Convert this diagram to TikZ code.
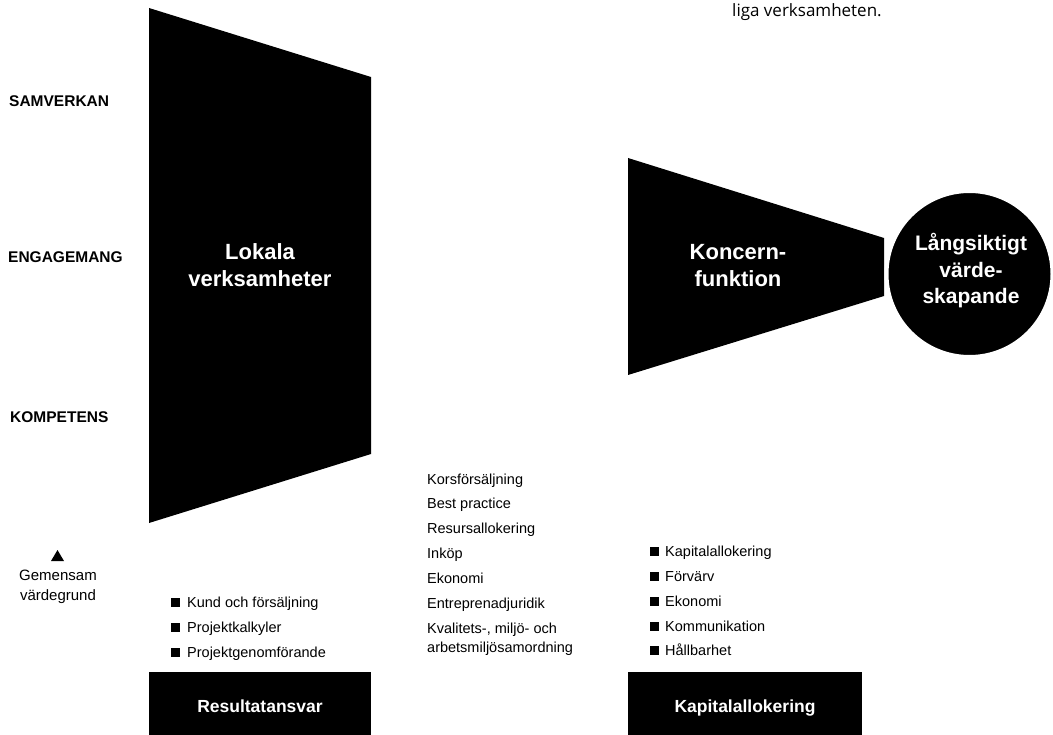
\documentclass[tikz,border=0pt]{standalone}
\usepackage{fontspec}
\setmainfont{Liberation Sans}
\newfontfamily\topfont{Open Sans}
\begin{document}
\begin{tikzpicture}[x=1pt,y=-1pt,
  blk/.style={fill=black,draw=none},
  sidelbl/.style={font=\bfseries\fontsize{15.5}{18}\selectfont, anchor=base west, inner sep=0},
  bigtxt/.style={text=white, font=\bfseries\fontsize{22}{27}\selectfont, align=center, inner sep=0},
  boxtxt/.style={text=white, font=\bfseries\fontsize{17.5}{20}\selectfont, anchor=base, inner sep=0},
  itm/.style={font=\fontsize{14.5}{18}\selectfont, anchor=base west, inner sep=0},
  sq/.style={fill=black, minimum size=8.5pt, inner sep=0, anchor=south west}]
\useasboundingbox (0,0) rectangle (1053,735);
% top text
\node[font=\topfont\fontsize{17}{19}\selectfont, anchor=base west, inner sep=0] (toptxt) at (732,17) {liga verksamheten.};
% left trapezoid
\path[blk] (149,8) -- (371,77) -- (371,454) -- (149,523) -- cycle;
\node[bigtxt, anchor=base] (lokala) at (260,287) {Lokala\\verksamheter};
% side labels
\node[sidelbl] (samv) at (9,107) {SAMVERKAN};
\node[sidelbl] (eng) at (8,263) {ENGAGEMANG};
\node[sidelbl] (komp) at (10,423) {KOMPETENS};
% common values
\path[blk] (51,561) -- (64,561) -- (57.5,550) -- cycle;
\node[font=\fontsize{15}{20}\selectfont, align=center, anchor=base, inner sep=0] (gem) at (58,600) {Gemensam\\värdegrund};
% right trapezoid and circle
\path[blk] (628,158) -- (884,238) -- (884,296) -- (628,375) -- cycle;
\node[bigtxt, anchor=base] (koncern) at (738,287) {Koncern-\\funktion};
\node[circle, fill=black, draw=white, line width=4pt, minimum size=166pt, inner sep=0] (circ) at (969.5,274) {};
\node[bigtxt, anchor=base, font=\bfseries\fontsize{21}{26.5}\selectfont] (lang) at (971,304) {Långsiktigt\\värde-\\skapande};
% left bullet list
\node[sq] (b1) at (171,607) {};
\node[itm] (l1) at (187,607) {Kund och försäljning};
\node[sq] (b2) at (171,632) {};
\node[itm] (l2) at (187,632) {Projektkalkyler};
\node[sq] (b3) at (171,657) {};
\node[itm] (l3) at (187,657) {Projektgenomförande};
% middle list
\node[itm] (m1) at (427,484) {Korsförsäljning};
\node[itm] (m2) at (427,508.5) {Best practice};
\node[itm] (m3) at (427,533) {Resursallokering};
\node[itm] (m4) at (427,558) {Inköp};
\node[itm] (m5) at (427,583) {Ekonomi};
\node[itm] (m6) at (427,608) {Entreprenadjuridik};
\node[itm] (m7) at (427,633) {Kvalitets-, miljö- och};
\node[itm] (m8) at (427,652) {arbetsmiljösamordning};
% right bullet list
\node[sq] (r1b) at (650,556) {};
\node[itm] (r1) at (665,556) {Kapitalallokering};
\node[sq] (r2b) at (650,581) {};
\node[itm] (r2) at (665,581) {Förvärv};
\node[sq] (r3b) at (650,606) {};
\node[itm] (r3) at (665,606) {Ekonomi};
\node[sq] (r4b) at (650,631) {};
\node[itm] (r4) at (665,631) {Kommunikation};
\node[sq] (r5b) at (650,655) {};
\node[itm] (r5) at (665,655) {Hållbarhet};
% bottom boxes
\path[blk] (149,672) rectangle (371,735);
\node[boxtxt] (res) at (260,712) {Resultatansvar};
\path[blk] (628,672) rectangle (862,735);
\node[boxtxt] (kap) at (745,712) {Kapitalallokering};
\end{tikzpicture}
\end{document}
